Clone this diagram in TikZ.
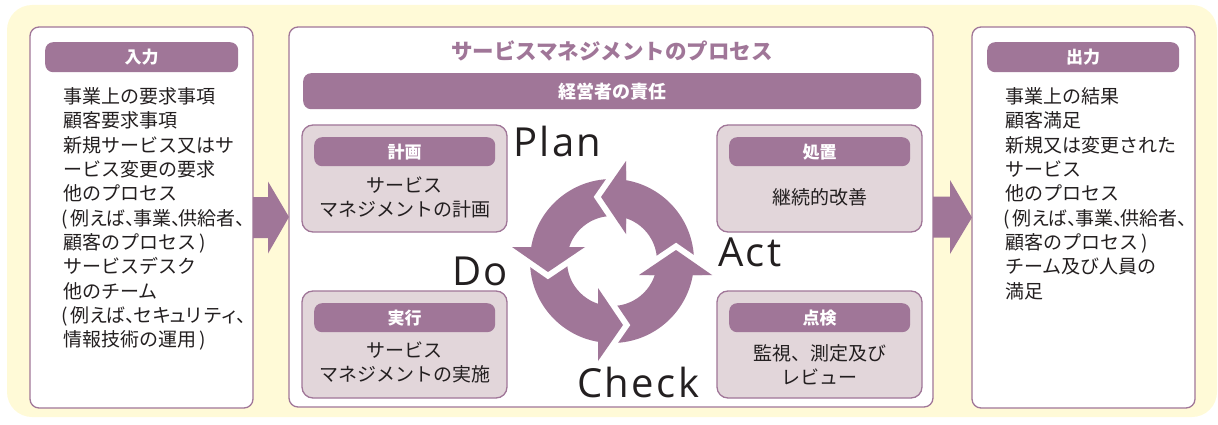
\documentclass[tikz,border=0pt]{standalone}
\usepackage{fontspec}
\setmainfont{Noto Sans CJK JP}
\newfontfamily\pdcafont[LetterSpace=6]{Open Sans}
\usetikzlibrary{calc}
\definecolor{purp}{HTML}{A07698}
\definecolor{subfill}{HTML}{E2D6DA}
\definecolor{bgyel}{HTML}{FFFAD7}
\definecolor{ink}{HTML}{231F20}
\newcommand\hcm{、\kern-.62em}
\newcommand\skn[1]{\kern-.14em#1\kern-.14em}
\newcommand\opn{\kern-.08em(\kern.12em}
\newcommand\cychead[3]{%
  \fill[purp] #1--#2--#3--cycle;
  \draw[white,line width=12pt] #1--#2--#3;
  \fill[purp] #1--#2--#3--cycle;}
\begin{document}
\begin{tikzpicture}[x=1pt,y=-1pt,
  bgbox/.style={fill=bgyel, rounded corners=25pt, anchor=north west, inner sep=0pt, outer sep=0pt},
  box/.style={draw=purp, line width=1.3pt, fill=white, rounded corners=9pt, anchor=north west, inner sep=0pt, outer sep=0pt},
  subbox/.style={box, fill=subfill, rounded corners=11pt},
  pill/.style={fill=purp, rounded corners=8pt, anchor=north west, inner sep=0pt, text=white, font=\fontsize{17}{20}\selectfont\bfseries},
  bodytxt/.style={text=ink, font=\fontsize{19}{24}\selectfont, inner sep=0pt, align=center},
  listtxt/.style={text=ink, font=\fontsize{19}{24.3}\selectfont, inner sep=0pt, align=left, anchor=north west},
  pdca/.style={font=\pdcafont\fontsize{40}{44}\selectfont, text=ink, inner sep=0pt, anchor=base west},
  blockarrow/.style={fill=purp}]
\useasboundingbox (0,0) rectangle (1218,425);
\node[bgbox, minimum width=1210pt, minimum height=412pt] (bg) at (7,5) {};
% main boxes
\node[box, minimum width=223pt, minimum height=381pt] (in) at (30,27) {};
\node[box, minimum width=644pt, minimum height=380pt] (proc) at (289,27) {};
\node[box, minimum width=223pt, minimum height=381pt] (out) at (972,27) {};
% block arrows
\fill[blockarrow] ($(in.east)+(0,-20.5)$) -- ($(in.east)+(15,-20.5)$) -- ($(in.east)+(15,-36)$) -- (proc.west)
  -- ($(in.east)+(15,36)$) -- ($(in.east)+(15,20.5)$) -- ($(in.east)+(0,20.5)$) -- cycle;
\fill[blockarrow] ($(proc.east)+(0,-20.5)$) -- ($(proc.east)+(17,-20.5)$) -- ($(proc.east)+(17,-37)$) -- (out.west)
  -- ($(proc.east)+(17,37)$) -- ($(proc.east)+(17,20.5)$) -- ($(proc.east)+(0,20.5)$) -- cycle;
% input
\node[pill, minimum width=193pt, minimum height=30pt] (inpill) at (45,42) {入力};
\node[listtxt] (intext) at (63,87.5) {事業上の要求事項\\顧客要求事項\\新規サービス又はサ\\ービス変更の要求\\他のプロセス\\\opn 例え\kern-.08emば\hcm 事業\hcm 供給者\hcm\\顧客のプロセス\hspace{.2em})\\サービスデスク\\他のチーム\\\opn 例え\kern-.08emば\hcm セキ\skn{ュ}リテ\skn{ィ}\hcm\\情報技術の運用\hspace{.2em})};
% output
\node[pill, minimum width=192pt, minimum height=30pt] (outpill) at (987,42) {出力};
\node[listtxt] (outtext) at (1005,87.5) {事業上の結果\\顧客満足\\新規又は変更された\\サービス\\他のプロセス\\\opn 例え\kern-.08emば\hcm 事業\hcm 供給者\hcm\\顧客のプロセス\hspace{.2em})\\チーム及び人員の\\満足};
% process
\node[text=purp, font=\fontsize{21.5}{24}\selectfont\bfseries, inner sep=0pt] (ptitle) at (612,51) {サービスマネジメントのプロセス};
\node[pill, minimum width=618pt, minimum height=36pt, font=\fontsize{18}{20}\selectfont\bfseries] (bar) at (303,73) {経営者の責任};
% sub boxes
\node[subbox, minimum width=205pt, minimum height=107pt] (plan) at (302,125) {};
\node[subbox, minimum width=205pt, minimum height=107pt] (act) at (717,125) {};
\node[subbox, minimum width=205pt, minimum height=107pt] (do) at (302,291) {};
\node[subbox, minimum width=205pt, minimum height=107pt] (chk) at (717,291) {};
\node[pill, minimum width=181pt, minimum height=29pt] (planpill) at (314,137) {計画};
\node[pill, minimum width=181pt, minimum height=29pt] (actpill) at (729,137) {処置};
\node[pill, minimum width=181pt, minimum height=29pt] (dopill) at (314,303) {実行};
\node[pill, minimum width=181pt, minimum height=29pt] (chkpill) at (729,303) {点検};
\node[bodytxt] (plantext) at (404.5,197) {サービス\\マネジメントの計画};
\node[bodytxt] (acttext) at (819.5,197) {継続的改善};
\node[bodytxt] (dotext) at (404.5,362.5) {サービス\\マネジメントの実施};
\node[bodytxt] (chktext) at (819.5,364.5) {監視、測定及び\\レビュー};
% cycle
\fill[purp, even odd rule] (612,261) circle[radius=82pt] (612,261) circle[radius=45pt];
\cychead{(512,247)}{(548,272)}{(585,247)}
\cychead{(626,161)}{(601,197)}{(626,234)}
\cychead{(712,275)}{(676,250)}{(639,275)}
\cychead{(598,361)}{(623,325)}{(598,288)}
% PDCA labels
\node[pdca] (lplan) at (513,157) {Plan};
\node[pdca] (ldo) at (452,285) {Do};
\node[pdca] (lact) at (718,266) {Act};
\node[pdca] (lchk) at (577,397) {Check};
\end{tikzpicture}
\end{document}
